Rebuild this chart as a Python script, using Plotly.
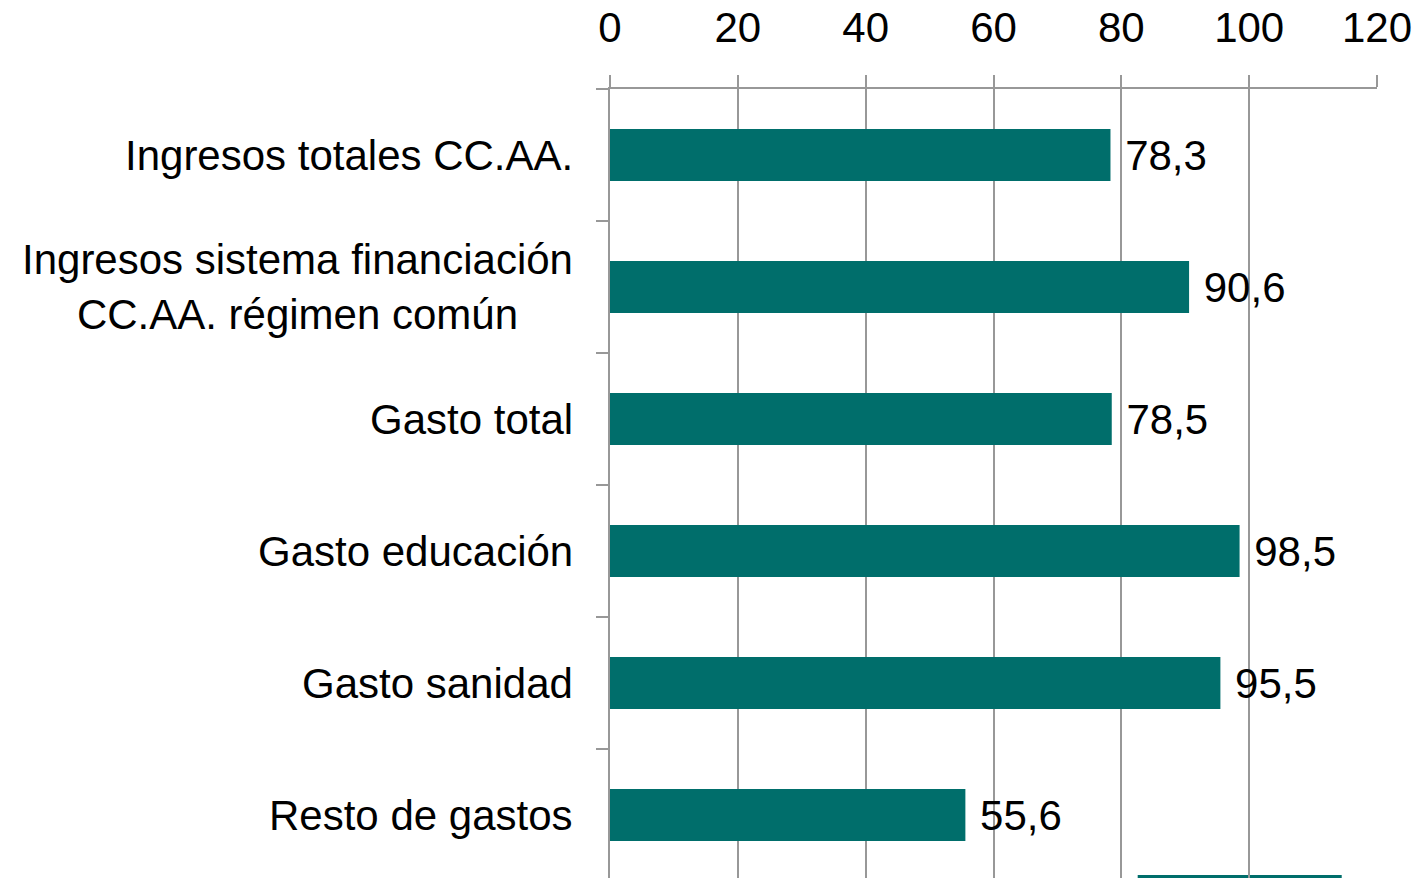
import plotly.graph_objects as go

# Datos
categorias = [
    "Ingresos totales CC.AA.",
    "Ingresos sistema financiación<br>CC.AA. régimen común",
    "Gasto total",
    "Gasto educación",
    "Gasto sanidad",
    "Resto de gastos",
]
valores = [78.3, 90.6, 78.5, 98.5, 95.5, 55.6]
ticks_x = [0, 20, 40, 60, 80, 100, 120]

color_barra = "#006E6B"
gris = "#989898"
fuente = "Liberation Sans, Arial, sans-serif"

fig = go.Figure()

fig.add_trace(go.Bar(
    y=categorias,
    x=valores,
    orientation="h",
    marker=dict(color=color_barra, line=dict(width=0)),
    texttemplate="\u00a0%{x:.1f}",
    textposition="outside",
    textfont=dict(size=42, color="#000000", family=fuente),
    cliponaxis=False,
    showlegend=False,
))

# etiquetas de categoria como anotaciones (centradas en varias lineas)
for c in categorias:
    fig.add_annotation(
        x=-0.046, xref="paper", xanchor="right",
        y=c, yref="y",
        text=c, showarrow=False, align="center",
        font=dict(size=42, color="#000000", family=fuente),
    )

# trozo de barra visible abajo a la derecha
fig.add_shape(
    type="rect", xref="paper", yref="paper",
    x0=0.688, x1=0.954, y0=-0.01, y1=0.0038,
    fillcolor=color_barra, line=dict(width=0), layer="below",
)

fig.update_layout(
    width=1428,
    height=878,
    margin=dict(l=610, r=51, t=89, b=0),
    bargap=0.606,
    separators=",.",
    font=dict(family=fuente, size=42, color="#000000"),
    plot_bgcolor="#ffffff",
    paper_bgcolor="#ffffff",
)

fig.update_xaxes(
    side="top",
    automargin=False,
    range=[0, 120],
    tickvals=ticks_x,
    showgrid=True, gridcolor=gris, gridwidth=1.5,
    showline=True, linecolor=gris, linewidth=1.5,
    ticks="outside", ticklen=12, tickcolor=gris, tickwidth=1.5,
    tickfont=dict(size=42, family=fuente),
    ticklabelstandoff=16,
    zeroline=False,
)
fig.update_yaxes(
    automargin=False,
    range=[5.477, -0.5],
    showticklabels=False,
    tickson="boundaries",
    ticks="outside", ticklen=12, tickcolor=gris, tickwidth=1.5,
    showline=True, linecolor=gris, linewidth=2,
    showgrid=False,
    zeroline=False,
)

# quitar el margen por defecto del body y la barra de herramientas
fig.write_html(
    "out.html",
    config={"displayModeBar": False},
    post_script="document.body.style.margin='0';",
)
